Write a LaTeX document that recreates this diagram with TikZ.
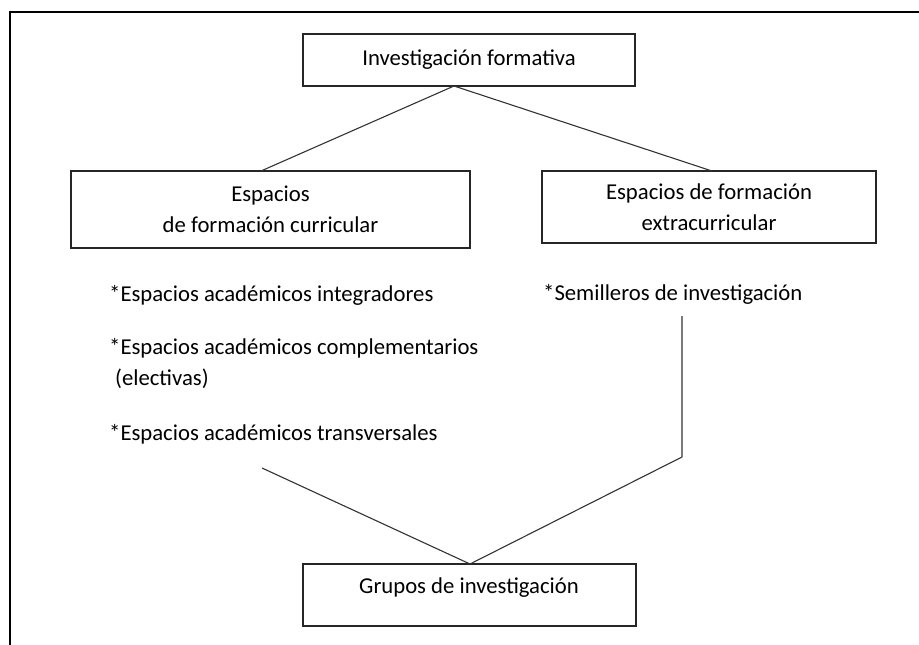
\documentclass[tikz,border=0pt]{standalone}
\usepackage{fontspec}
\setmainfont{Carlito}
\begin{document}
\begin{tikzpicture}[x=1pt,y=-1pt,
  boxstyle/.style={draw=black!85, line width=1.4pt, inner sep=0pt, align=center,
    text=black, font=\fontsize{22.7}{31.5}\selectfont},
  txtstyle/.style={inner sep=0pt, text=black, font=\fontsize{22.7}{31.5}\selectfont},
  conn/.style={draw=black!80, line width=1.1pt}]
\useasboundingbox (0,0) rectangle (919,645);
\draw[line width=2.8pt] (10,646) -- (10,12) -- (920,12);

\node[boxstyle, minimum width=332, minimum height=52] (top) at (469,60) {Investigación formativa};
\node[boxstyle, minimum width=399, minimum height=77] (left) at (270.5,209.5) {Espacios\\de formación curricular};
\node[boxstyle, minimum width=334, minimum height=72] (right) at (709,207) {Espacios de formación\\extracurricular};
\node[boxstyle, minimum width=333, minimum height=62] (grupos) at (469.5,595) {};
\node[txtstyle] (grupostxt) at (469,588) {Grupos de investigación};

\node[txtstyle, anchor=base west] (l1) at (109,301) {*Espacios académicos integradores};
\node[txtstyle, anchor=base west] (l2) at (109,354) {*Espacios académicos complementarios};
\node[txtstyle, anchor=base west] (l2b) at (115,385) {(electivas)};
\node[txtstyle, anchor=base west] (l3) at (109,440) {*Espacios académicos transversales};
\node[txtstyle, anchor=base west] (r1) at (543,300) {*Semilleros de investigación};

\coordinate (tj) at (454,86);
\coordinate (lt) at (261,171);
\coordinate (rt) at (712,171);
\coordinate (ls) at (262,468);
\coordinate (gj) at (470,564);
\coordinate (rs) at (682,316);
\coordinate (rb) at (682,457);

\draw[conn] (tj) -- (lt);
\draw[conn] (tj) -- (rt);
\draw[conn] (ls) -- (gj);
\draw[conn] (rs) -- (rb) -- (gj);
\end{tikzpicture}
\end{document}
